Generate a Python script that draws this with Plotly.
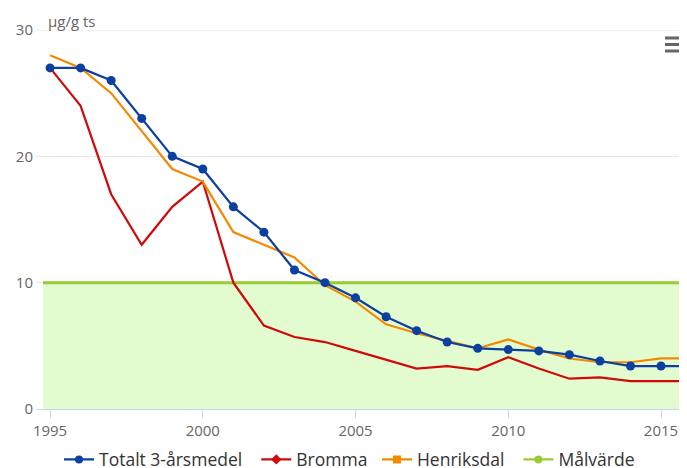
import plotly.graph_objects as go

years = list(range(1995, 2017))
totalt = [27, 27, 26, 23, 20, 19, 16, 14, 11, 10, 8.8, 7.3, 6.2, 5.3, 4.8, 4.7, 4.6, 4.3, 3.8, 3.4, 3.4, 3.4]
bromma = [27, 24, 17, 13, 16, 18, 10, 6.6, 5.7, 5.3, 4.6, 3.9, 3.2, 3.4, 3.1, 4.1, 3.2, 2.4, 2.5, 2.2, 2.2, 2.2]
henriksdal = [28, 27, 25, 22, 19, 18, 14, 13, 12, 9.8, 8.5, 6.7, 6.0, 5.4, 4.8, 5.5, 4.7, 4.0, 3.7, 3.7, 4.0, 4.0]
malvarde = 10
y_ticks = [0, 10, 20, 30]
x_ticks = [1995, 2000, 2005, 2010, 2015]
unit_label = "μg/g ts"
series_names = ["Totalt 3-årsmedel", "Bromma", "Henriksdal", "Målvärde"]

BLUE = "#0d3f9f"
RED = "#d00a0a"
ORANGE = "#f28a00"
GREEN = "#99cc33"
FILL = "#e2fcd0"
FONT = "Open Sans"

# page body has an 8px margin; figure is sized to fill the rest of the window
OFF = 8
FW, FH = 687 - OFF, 468 - OFF
L, T, H = 36 - OFF, 30 - OFF, 379
W = FW - L
def px(x):
    return (x - OFF - L) / W
def py(y):
    return (T + H - (y - OFF)) / H

fig = go.Figure()

# gridlines
for v in y_ticks[1:]:
    fig.add_shape(type="line", xref="paper", yref="y", x0=0, x1=1, y0=v, y1=v,
                  line=dict(color="#e6e6e6", width=1), layer="below")
# Target band and line
fig.add_shape(type="rect", xref="paper", yref="y", x0=px(43), x1=1, y0=0, y1=malvarde,
              fillcolor=FILL, line_width=0, layer="below")
fig.add_shape(type="line", xref="paper", yref="y", x0=px(43), x1=1, y0=malvarde, y1=malvarde,
              line=dict(color=GREEN, width=3), layer="below")

fig.add_trace(go.Scatter(x=years, y=bromma, mode="lines", line=dict(color=RED, width=2.2),
                         showlegend=False, hoverinfo="skip"))
fig.add_trace(go.Scatter(x=years, y=henriksdal, mode="lines", line=dict(color=ORANGE, width=2.2),
                         showlegend=False, hoverinfo="skip"))
fig.add_trace(go.Scatter(x=years, y=totalt, mode="lines+markers", line=dict(color=BLUE, width=2.2),
                         marker=dict(color=BLUE, size=9, symbol="circle"), cliponaxis=False,
                         showlegend=False, hoverinfo="skip"))

# Legend entries (trailing non-breaking spaces widen the gaps between items)
pads = ["\u00a0\u00a0", "\u00a0", "\u00a0\u00a0", ""]
for name, pad, col, sym in zip(series_names, pads, [BLUE, RED, ORANGE, GREEN],
                               ["circle", "diamond", "square", "circle"]):
    fig.add_trace(go.Scatter(x=[None], y=[None], mode="lines+markers", name=name + pad,
                             line=dict(color=col, width=2.2),
                             marker=dict(color=col, size=8, symbol=sym)))

# Hamburger menu icon (decoration)
for yy in [38, 44.5, 51]:
    fig.add_shape(type="rect", xref="paper", yref="paper", x0=px(665), x1=px(686),
                  y0=py(yy + 1.5), y1=py(yy - 1.5),
                  fillcolor="#666666", line_width=0, layer="above")

fig.add_annotation(text=unit_label, xref="paper", yref="paper", x=px(46), y=py(21),
                   xanchor="left", yanchor="middle", showarrow=False,
                   font=dict(family=FONT, size=15, color="#666666"))

fig.update_layout(
    width=FW, height=FH,
    margin=dict(l=L, r=0, t=T, b=FH - T - H, autoexpand=False),
    paper_bgcolor="white", plot_bgcolor="white",
    font=dict(family=FONT, color="#333333"),
    showlegend=True,
    legend=dict(orientation="h", x=px(59), xanchor="left", yref="container",
                y=(FH - (459.5 - OFF)) / FH, yanchor="middle",
                font=dict(family=FONT, size=17.5, color="#333333"),
                itemwidth=30, tracegroupgap=0),
    xaxis=dict(range=[1994.54, 2015.85], tickvals=x_ticks, ticktext=[str(v) for v in x_ticks],
               showgrid=False, zeroline=False, showline=True, linecolor="#ccd6eb", linewidth=1,
               ticks="outside", ticklen=8, tickcolor="#ccd6eb",
               tickfont=dict(family=FONT, size=15, color="#666666")),
    yaxis=dict(range=[0, 30], tickvals=y_ticks, showgrid=False,
               zeroline=False, showline=False,
               tickfont=dict(family=FONT, size=15, color="#666666"), ticklabelstandoff=2),
)

fig.write_html("out.html")
